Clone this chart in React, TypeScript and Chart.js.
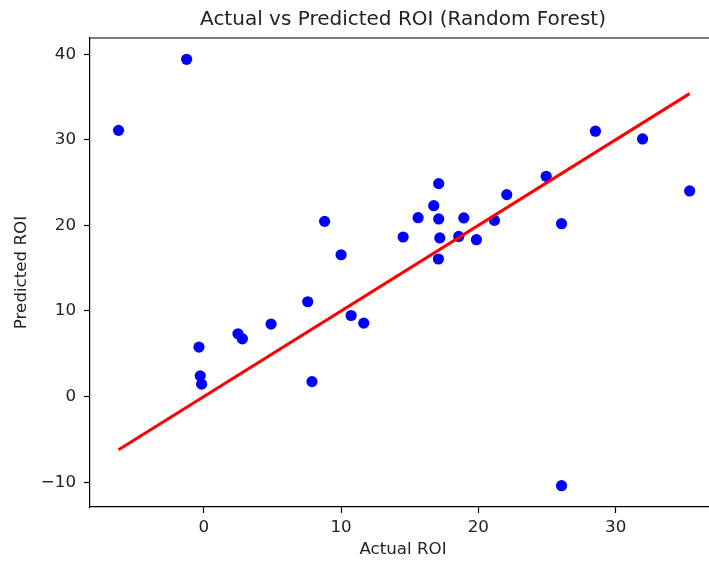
import React, { useEffect, useRef } from "react";
import { Chart, registerables } from "chart.js";

Chart.register(...registerables);

// Actual ROI (x) and predicted ROI (y)
const actualROI = [
  -6.21, -1.25, 8.8, 10.0, -0.35, -0.26, -0.16, 2.49, 2.81, 4.9, 7.57, 7.88,
  10.73, 11.65, 14.52, 15.61, 16.75, 17.11, 17.11, 17.19, 17.09, 18.57, 18.94,
  19.86, 21.17, 22.07, 24.94, 26.06, 28.53, 31.96, 35.39, 26.06,
];
const predictedROI = [
  31.1, 39.4, 20.47, 16.57, 5.78, 2.42, 1.45, 7.33, 6.75, 8.47, 11.08, 1.75,
  9.47, 8.58, 18.64, 20.9, 22.3, 24.88, 20.75, 18.53, 16.07, 18.71, 20.87,
  18.33, 20.58, 23.59, 25.73, 20.2, 31.0, 30.1, 24.02, -10.41,
];
const xTickValues = [0, 10, 20, 30];
const yTickValues = [-10, 0, 10, 20, 30, 40];

const chartTitle = "Actual vs Predicted ROI (Random Forest)";
const xLabel = "Actual ROI";
const yLabel = "Predicted ROI";

const FONT = "'DejaVu Sans', sans-serif";

export default function App() {
  const ref = useRef<HTMLCanvasElement | null>(null);

  useEffect(() => {
    document.body.style.overflow = "hidden";
    if (!ref.current) return;
    const points = actualROI.map((x, i) => ({ x, y: predictedROI[i] }));
    const lo = Math.min(...actualROI);
    const hi = Math.max(...actualROI);

    const textPlugin = {
      id: "mplText",
      afterDraw(chart: any) {
        const ctx = chart.ctx;
        const a = chart.chartArea;
        ctx.save();
        // top spine
        ctx.strokeStyle = "#000";
        ctx.lineWidth = 1.2;
        ctx.beginPath();
        ctx.moveTo(a.left, a.top);
        ctx.lineTo(a.right, a.top);
        ctx.stroke();
        ctx.fillStyle = "#222";
        ctx.textAlign = "center";
        ctx.textBaseline = "middle";
        ctx.font = `20px ${FONT}`;
        ctx.fillText(chartTitle, 403, 20);
        ctx.font = `16.7px ${FONT}`;
        ctx.fillText(xLabel, 403, 550);
        ctx.translate(22, 272.5);
        ctx.rotate(-Math.PI / 2);
        ctx.fillText(yLabel, 0, 0);
        ctx.restore();
      },
    };

    const chart = new Chart(ref.current, {
      type: "scatter",
      data: {
        datasets: [
          {
            type: "line",
            data: [
              { x: lo, y: lo },
              { x: hi, y: hi },
            ],
            borderColor: "#ff0000",
            borderWidth: 3,
            pointRadius: 0,
            showLine: true,
            fill: false,
            order: 0,
          } as any,
          {
            data: points,
            backgroundColor: "#0000ff",
            borderColor: "#0000ff",
            borderWidth: 0,
            pointRadius: 5.6,
            order: 1,
          },
        ],
      },
      options: {
        animation: false,
        responsive: false,
        devicePixelRatio: 1,
        layout: { padding: { top: 38, left: 0, right: 0, bottom: 0 } },
        plugins: {
          legend: { display: false },
          title: { display: false },
          tooltip: { enabled: false },
        },
        scales: {
          x: {
            type: "linear",
            min: -8.29,
            max: 36.83,
            afterBuildTicks: (s: any) => {
              s.ticks = xTickValues.map((v) => ({ value: v }));
            },
            afterFit: (s: any) => {
              s.height = 54;
            },
            grid: {
              display: true,
              drawOnChartArea: false,
              drawTicks: true,
              tickLength: 6,
              tickColor: "#000",
              tickWidth: 1.2,
            },
            border: { display: true, color: "#000", width: 1.2 },
            ticks: {
              color: "#222",
              padding: 5,
              maxRotation: 0,
              font: { family: FONT, size: 16.7 },
              callback: (v: any) => String(v).replace("-", "\u2212"),
            },
          },
          y: {
            type: "linear",
            min: -12.9,
            max: 41.89,
            afterBuildTicks: (s: any) => {
              s.ticks = yTickValues.map((v) => ({ value: v }));
            },
            afterFit: (s: any) => {
              s.width = 90;
            },
            grid: {
              display: true,
              drawOnChartArea: false,
              drawTicks: true,
              tickLength: 6,
              tickColor: "#000",
              tickWidth: 1.2,
            },
            border: { display: true, color: "#000", width: 1.2 },
            ticks: {
              color: "#222",
              padding: 8,
              font: { family: FONT, size: 16.7 },
              callback: (v: any) => String(v).replace("-", "\u2212"),
            },
          },
        },
      },
      plugins: [textPlugin],
    });
    return () => chart.destroy();
  }, []);

  return (
    <canvas
      ref={ref}
      width={715}
      height={561}
      style={{ position: "fixed", left: 0, top: 0, width: 715, height: 561, background: "#fff" }}
    />
  );
}
